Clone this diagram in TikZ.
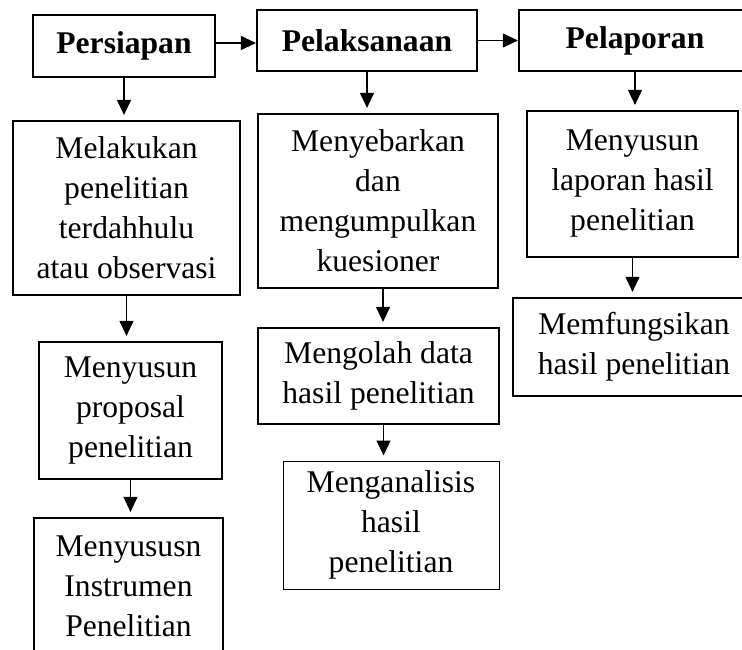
\documentclass[tikz,border=0pt]{standalone}
\usepackage{fontspec}
\setmainfont{Liberation Serif}
\usetikzlibrary{arrows.meta}

\begin{document}
\begin{tikzpicture}[x=1pt, y=-1pt,
    box/.style={draw, line width=2.2pt, align=center, inner sep=0pt,
        font=\fontsize{31.6pt}{40pt}\selectfont},
    thinbox/.style={box, line width=1pt},
    head/.style={box, font=\fontsize{31.6pt}{40pt}\selectfont\bfseries},
    arr/.style={line width=1.1pt, -{Triangle[length=15pt, width=14pt]}},
    varr/.style={arr, shorten >=5pt}]

    %% Frame of the page (boxes on the right and bottom run off it)
    \useasboundingbox (0,0) rectangle (742,650);
    \clip (0,0) rectangle (742,650);

    %% --- Three stages on top ---
    \node[head, minimum width=182pt, minimum height=62pt] (persiapan) at (124, 46) {Persiapan};
    \node[head, minimum width=220pt, minimum height=61pt] (pelaksanaan) at (367, 40.5) {Pelaksanaan};
    \node[head, minimum width=232pt, minimum height=61pt] (pelaporan) at (635, 40.5) {Pelaporan};

    %% --- Column 1: Persiapan ---
    \node[box, minimum width=227pt, minimum height=174pt] (melakukan) at (126.5, 208)
        {Melakukan\\penelitian\\terdahhulu\\atau observasi};
    \node[box, minimum width=183pt, minimum height=137pt] (proposal) at (130.5, 410.5)
        {Menyusun\\proposal\\penelitian};
    \node[box, minimum width=189pt, minimum height=137pt] (instrumen) at (128.5, 586.5)
        {Menyususn\\Instrumen\\Penelitian};

    %% --- Column 2: Pelaksanaan ---
    \node[box, minimum width=240pt, minimum height=174pt] (menyebarkan) at (378, 201)
        {Menyebarkan\\dan\\mengumpulkan\\kuesioner};
    \node[box, minimum width=241pt, minimum height=96pt] (mengolah) at (378.5, 376)
        {Mengolah data\\hasil penelitian};
    \node[thinbox, minimum width=216pt, minimum height=128pt] (menganalisis) at (391, 525)
        {Menganalisis\\hasil\\penelitian};

    %% --- Column 3: Pelaporan ---
    \node[box, minimum width=211pt, minimum height=146pt] (laporan) at (632.5, 184)
        {Menyusun\\laporan hasil\\penelitian};
    \node[box, minimum width=242pt, minimum height=98pt] (memfungsikan) at (634, 347)
        {Memfungsikan\\hasil penelitian};

    %% --- Arrows between the stages ---
    \draw[arr] ([yshift=3pt]persiapan.east) -- ([yshift=3pt]persiapan.east -| pelaksanaan.west);
    \draw[arr] (pelaksanaan.east) -- (pelaporan.west);

    %% --- Arrows down each column ---
    \draw[varr] (persiapan.south) -- (persiapan.south |- melakukan.north);
    \draw[varr] (melakukan.south) -- (melakukan.south |- proposal.north);
    \draw[varr] (proposal.south) -- (proposal.south |- instrumen.north);

    \draw[varr] (pelaksanaan.south) -- (pelaksanaan.south |- menyebarkan.north);
    \draw[varr] ([xshift=5pt]menyebarkan.south) -- ([xshift=5pt]menyebarkan.south |- mengolah.north);
    \draw[varr] ([xshift=5pt]mengolah.south) -- ([xshift=5pt]mengolah.south |- menganalisis.north);

    \draw[varr] (pelaporan.south) -- (pelaporan.south |- laporan.north);
    \draw[varr] (laporan.south) -- (laporan.south |- memfungsikan.north);

\end{tikzpicture}
\end{document}
